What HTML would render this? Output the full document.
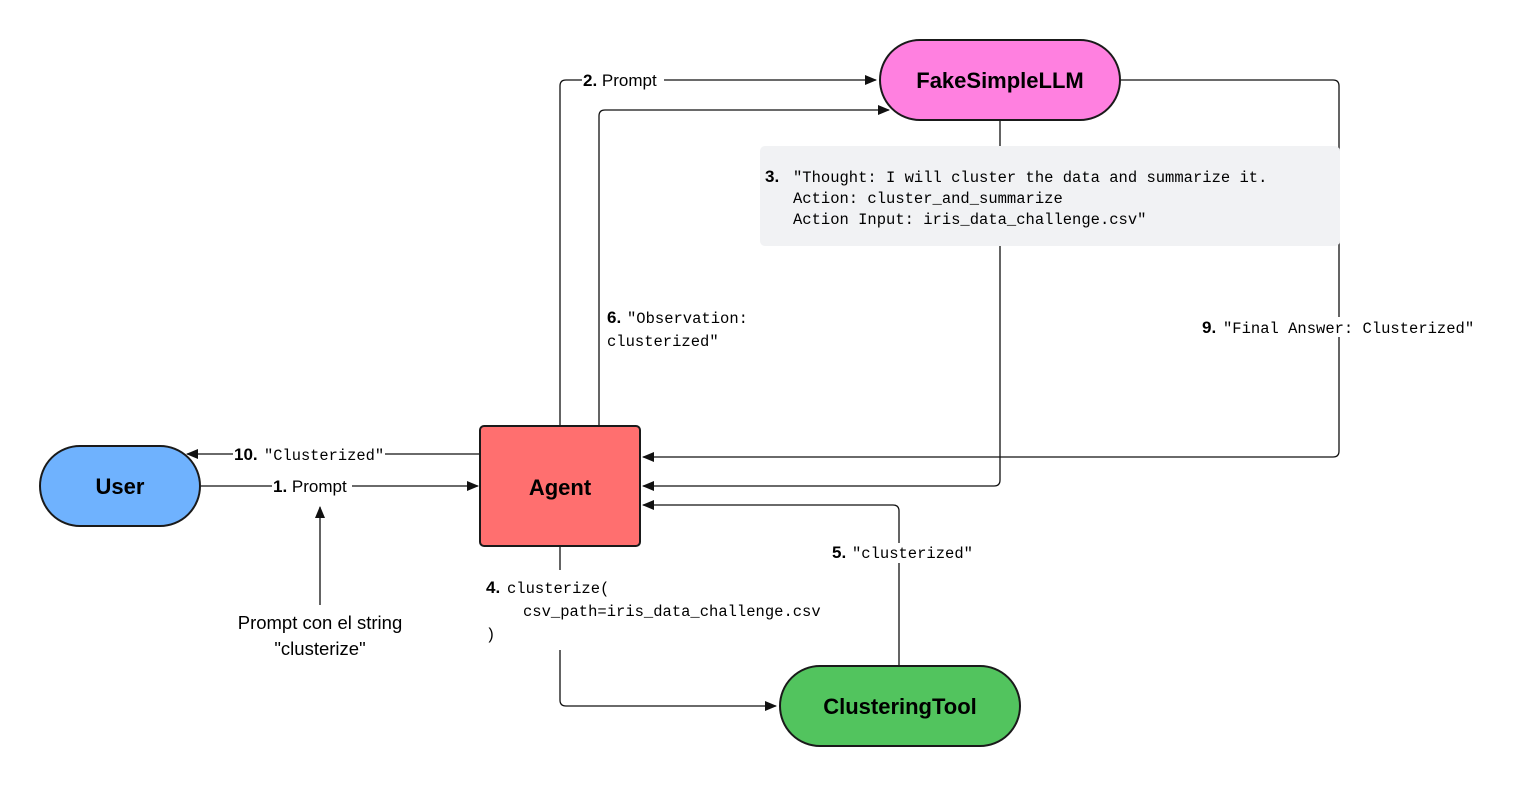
<!DOCTYPE html>
<html><head><meta charset="utf-8"><style>
html,body{margin:0;padding:0;background:#fff;}
svg{display:block;}
.s{font-family:"Liberation Sans",sans-serif;}
.m{font-family:"Liberation Mono",monospace;}
</style></head><body>
<svg width="1517" height="786" viewBox="0 0 1517 786" xmlns="http://www.w3.org/2000/svg">
<defs>
<marker id="a" markerWidth="12" markerHeight="10" refX="11" refY="5" orient="auto" markerUnits="userSpaceOnUse">
<path d="M0,0 L12,5 L0,10 z" fill="#111"/></marker>
</defs>
<g fill="none" stroke="#111" stroke-width="1.3">
<line x1="201" y1="486" x2="478" y2="486" marker-end="url(#a)"/>
<line x1="480" y1="454" x2="187" y2="454" marker-end="url(#a)"/>
<line x1="320" y1="605" x2="320" y2="507" marker-end="url(#a)"/>
<path d="M560 425 V86 Q560 80 566 80 H876" marker-end="url(#a)"/>
<path d="M599 425 V116 Q599 110 605 110 H889" marker-end="url(#a)"/>
<path d="M1000 121 V480 Q1000 486 994 486 H643" marker-end="url(#a)"/>
<path d="M1121 80 H1333 Q1339 80 1339 86 V451 Q1339 457 1333 457 H643" marker-end="url(#a)"/>
<path d="M899 665 V511 Q899 505 893 505 H643" marker-end="url(#a)"/>
<path d="M560 547 V570 M560 650 V700 Q560 706 566 706 H776" marker-end="url(#a)"/>
</g>
<rect x="760" y="146" width="580" height="100" rx="5" fill="#f1f2f4"/>
<rect x="40" y="446" width="160" height="80" rx="40" fill="#6fb2fe" stroke="#1a1a1a" stroke-width="2"/>
<rect x="480" y="426" width="160" height="120" rx="4" fill="#ff6f6f" stroke="#1a1a1a" stroke-width="2"/>
<rect x="880" y="40" width="240" height="80" rx="40" fill="#ff80e0" stroke="#1a1a1a" stroke-width="2"/>
<rect x="780" y="666" width="240" height="80" rx="40" fill="#52c45e" stroke="#1a1a1a" stroke-width="2"/>
<g class="s" font-weight="bold" font-size="22" text-anchor="middle" fill="#000">
<text x="120" y="494">User</text>
<text x="560" y="495">Agent</text>
<text x="1000" y="88">FakeSimpleLLM</text>
<text x="900" y="714">ClusteringTool</text>
</g>
<g fill="#fff">
<rect x="272" y="476" width="80" height="20"/>
<rect x="233" y="444" width="152" height="20"/>
<rect x="582" y="70" width="82" height="20"/>
<rect x="830" y="543" width="142" height="20"/>
<rect x="1198" y="317" width="280" height="20"/>
</g>
<g font-size="17" fill="#000">
<text x="273" y="492" class="s"><tspan font-weight="bold">1.</tspan> Prompt</text>
<text x="234" y="460" class="s" font-weight="bold">10.</text>
<text x="264" y="460" class="m" font-size="15.4">"Clusterized"</text>
<text x="583" y="86" class="s"><tspan font-weight="bold">2.</tspan> Prompt</text>
<text x="765" y="182" class="s" font-weight="bold">3.</text>
<text class="m" font-size="15.5"><tspan x="793" y="182">"Thought: I will cluster the data and summarize it.</tspan><tspan x="793" y="203">Action: cluster_and_summarize</tspan><tspan x="793" y="224">Action Input: iris_data_challenge.csv"</tspan></text>
<text x="607" y="323" class="s" font-weight="bold">6.</text>
<text class="m" font-size="15.5"><tspan x="627" y="323">"Observation:</tspan><tspan x="607" y="346">clusterized"</tspan></text>
<text x="1202" y="333" class="s" font-weight="bold">9.</text>
<text x="1223" y="333" class="m" font-size="15.5">"Final Answer: Clusterized"</text>
<text x="832" y="558" class="s" font-weight="bold">5.</text>
<text x="852" y="558" class="m" font-size="15.5">"clusterized"</text>
<text x="486" y="593" class="s" font-weight="bold">4.</text>
<text class="m" font-size="15.5"><tspan x="507" y="593">clusterize(</tspan><tspan x="523" y="616">csv_path=iris_data_challenge.csv</tspan><tspan x="486" y="639">)</tspan></text>
<text class="s" font-size="18.5" text-anchor="middle"><tspan x="320" y="629">Prompt con el string</tspan><tspan x="320" y="655">"clusterize"</tspan></text>
</g>
</svg>
</body></html>
